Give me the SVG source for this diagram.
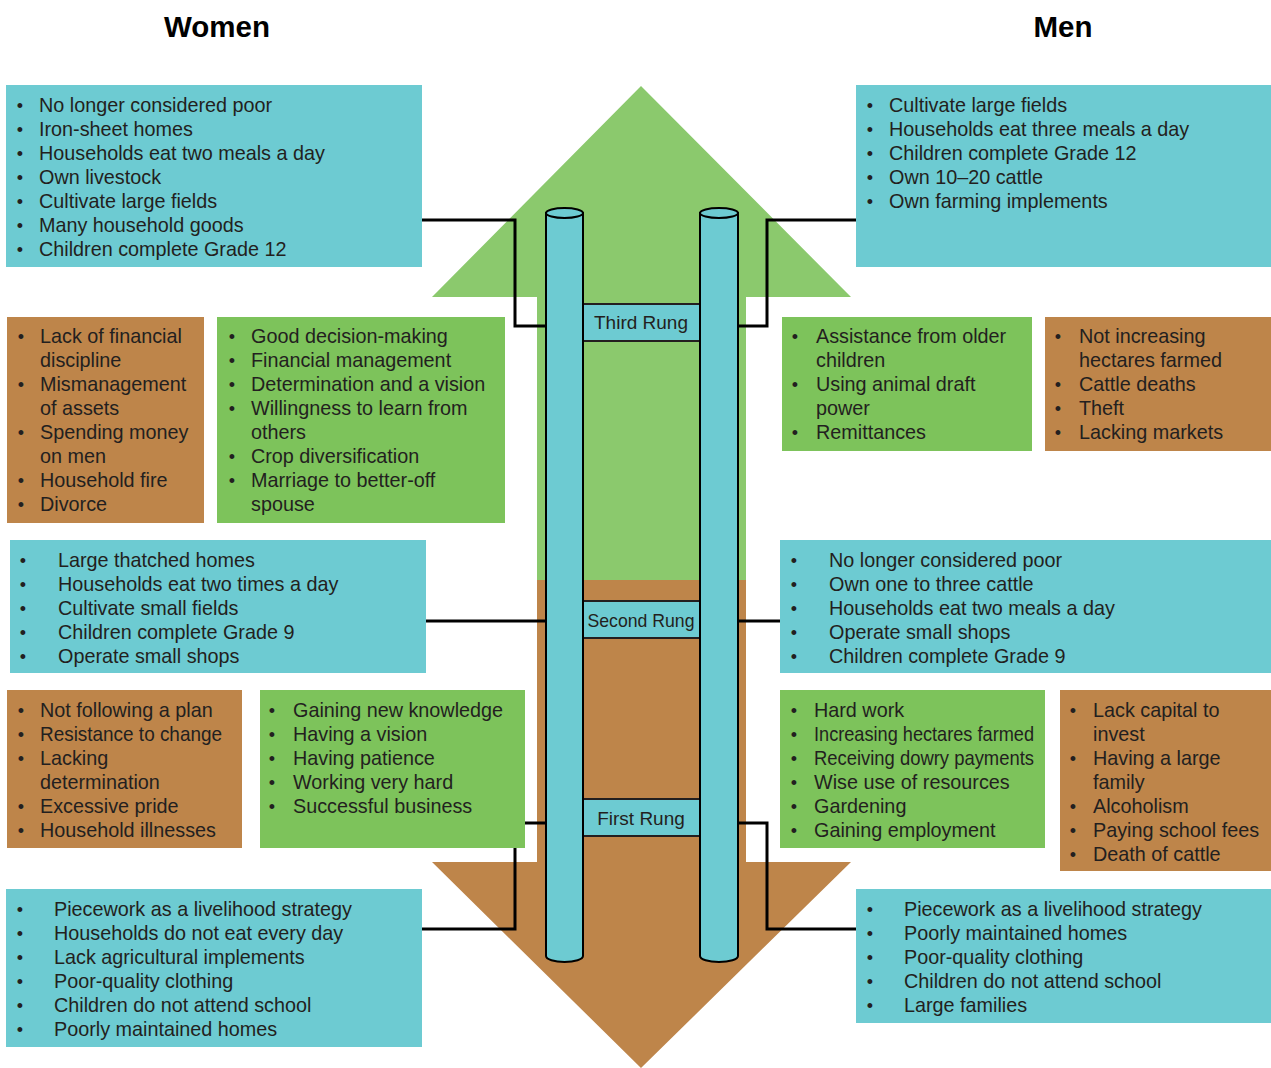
<svg xmlns="http://www.w3.org/2000/svg" width="1271" height="1068" viewBox="0 0 1271 1068">
<style>
.t{font-family:"Liberation Sans",Arial,sans-serif;font-size:19.8px;fill:#231F20}
.b{font-family:"Liberation Sans",Arial,sans-serif;font-size:18px;fill:#231F20;text-anchor:middle}
.h{font-family:"Liberation Sans",Arial,sans-serif;font-size:29.5px;font-weight:bold;fill:#000;text-anchor:middle}
.r{font-family:"Liberation Sans",Arial,sans-serif;font-size:19px;fill:#231F20;text-anchor:middle}
.blue{fill:#6DCBD2}
.grn{fill:#7DC35B}
.brn{fill:#BE854A}
.pole{fill:#6DCBD2;stroke:#000;stroke-width:2}
.rung{fill:#6DCBD2;stroke:#231F20;stroke-width:2}
.con{fill:none;stroke:#000;stroke-width:3}
</style>
<rect width="1271" height="1068" fill="#fff"/>
<g id="arrow-up"><polygon points="641,86 851,297 746,297 746,580 537,580 537,297 432,297" fill="#8BC96D"/></g>
<g id="arrow-down"><polygon points="537,580 746,580 746,862 851,862 641,1068 432,862 537,862" fill="#BE854A"/></g>
<g id="titles">
<text class="h" x="217" y="37">Women</text>
<text class="h" x="1063" y="37">Men</text>
</g>
<g id="connectors">
<polyline class="con" points="422,220 515,220 515,326 546,326"/>
<polyline class="con" points="738,326 767,326 767,220 856,220"/>
<line class="con" x1="426" y1="621" x2="546" y2="621"/>
<line class="con" x1="738" y1="621" x2="780" y2="621"/>
<polyline class="con" points="546,823 515,823 515,929 422,929"/>
<polyline class="con" points="738,823 767,823 767,929 856,929"/>
</g>
<g id="ladder">
<g id="rung3"><rect class="rung" x="583" y="304" width="117" height="37"/><text class="r" x="641" y="329">Third Rung</text></g>
<g id="rung2"><rect class="rung" x="583" y="601" width="117" height="37"/><text class="r" x="641" y="627" textLength="107" lengthAdjust="spacingAndGlyphs">Second Rung</text></g>
<g id="rung1"><rect class="rung" x="583" y="799" width="117" height="37"/><text class="r" x="641" y="825">First Rung</text></g>
<g id="pole-left"><path class="pole" d="M546,213 L546,956 A18.5,6 0 0 0 583,956 L583,213 Z"/><ellipse class="pole" cx="564.5" cy="213" rx="18.5" ry="5"/></g>
<g id="pole-right"><path class="pole" d="M700,213 L700,956 A19,6 0 0 0 738,956 L738,213 Z"/><ellipse class="pole" cx="719" cy="213" rx="19" ry="5"/></g>
</g>
<g id="women-third">
<rect class="blue" x="6" y="85" width="416" height="182"/>
<text class="b" x="20" y="112">•</text><text class="t" x="39" y="112">No longer considered poor</text>
<text class="b" x="20" y="136">•</text><text class="t" x="39" y="136">Iron-sheet homes</text>
<text class="b" x="20" y="160">•</text><text class="t" x="39" y="160">Households eat two meals a day</text>
<text class="b" x="20" y="184">•</text><text class="t" x="39" y="184">Own livestock</text>
<text class="b" x="20" y="208">•</text><text class="t" x="39" y="208">Cultivate large fields</text>
<text class="b" x="20" y="232">•</text><text class="t" x="39" y="232">Many household goods</text>
<text class="b" x="20" y="256">•</text><text class="t" x="39" y="256">Children complete Grade 12</text>
</g>
<g id="men-third">
<rect class="blue" x="856" y="85" width="415" height="182"/>
<text class="b" x="870" y="112">•</text><text class="t" x="889" y="112">Cultivate large fields</text>
<text class="b" x="870" y="136">•</text><text class="t" x="889" y="136">Households eat three meals a day</text>
<text class="b" x="870" y="160">•</text><text class="t" x="889" y="160">Children complete Grade 12</text>
<text class="b" x="870" y="184">•</text><text class="t" x="889" y="184">Own 10–20 cattle</text>
<text class="b" x="870" y="208">•</text><text class="t" x="889" y="208">Own farming implements</text>
</g>
<g id="women-down-2">
<rect class="brn" x="7" y="317" width="197" height="206"/>
<text class="b" x="21" y="343">•</text><text class="t" x="40" y="343">Lack of financial</text>
<text class="t" x="40" y="367">discipline</text>
<text class="b" x="21" y="391">•</text><text class="t" x="40" y="391">Mismanagement</text>
<text class="t" x="40" y="415">of assets</text>
<text class="b" x="21" y="439">•</text><text class="t" x="40" y="439">Spending money</text>
<text class="t" x="40" y="463">on men</text>
<text class="b" x="21" y="487">•</text><text class="t" x="40" y="487">Household fire</text>
<text class="b" x="21" y="511">•</text><text class="t" x="40" y="511">Divorce</text>
</g>
<g id="women-up-2">
<rect class="grn" x="217" y="317" width="288" height="206"/>
<text class="b" x="232" y="343">•</text><text class="t" x="251" y="343">Good decision-making</text>
<text class="b" x="232" y="367">•</text><text class="t" x="251" y="367">Financial management</text>
<text class="b" x="232" y="391">•</text><text class="t" x="251" y="391">Determination and a vision</text>
<text class="b" x="232" y="415">•</text><text class="t" x="251" y="415">Willingness to learn from</text>
<text class="t" x="251" y="439">others</text>
<text class="b" x="232" y="463">•</text><text class="t" x="251" y="463">Crop diversification</text>
<text class="b" x="232" y="487">•</text><text class="t" x="251" y="487">Marriage to better-off</text>
<text class="t" x="251" y="511">spouse</text>
</g>
<g id="men-up-2">
<rect class="grn" x="782" y="317" width="250" height="134"/>
<text class="b" x="795" y="343">•</text><text class="t" x="816" y="343">Assistance from older</text>
<text class="t" x="816" y="367">children</text>
<text class="b" x="795" y="391">•</text><text class="t" x="816" y="391">Using animal draft</text>
<text class="t" x="816" y="415">power</text>
<text class="b" x="795" y="439">•</text><text class="t" x="816" y="439">Remittances</text>
</g>
<g id="men-down-2">
<rect class="brn" x="1045" y="317" width="226" height="134"/>
<text class="b" x="1058" y="343">•</text><text class="t" x="1079" y="343">Not increasing</text>
<text class="t" x="1079" y="367">hectares farmed</text>
<text class="b" x="1058" y="391">•</text><text class="t" x="1079" y="391">Cattle deaths</text>
<text class="b" x="1058" y="415">•</text><text class="t" x="1079" y="415">Theft</text>
<text class="b" x="1058" y="439">•</text><text class="t" x="1079" y="439">Lacking markets</text>
</g>
<g id="women-second">
<rect class="blue" x="10" y="540" width="416" height="133"/>
<text class="b" x="23" y="567">•</text><text class="t" x="58" y="567">Large thatched homes</text>
<text class="b" x="23" y="591">•</text><text class="t" x="58" y="591">Households eat two times a day</text>
<text class="b" x="23" y="615">•</text><text class="t" x="58" y="615">Cultivate small fields</text>
<text class="b" x="23" y="639">•</text><text class="t" x="58" y="639">Children complete Grade 9</text>
<text class="b" x="23" y="663">•</text><text class="t" x="58" y="663">Operate small shops</text>
</g>
<g id="men-second">
<rect class="blue" x="780" y="540" width="491" height="133"/>
<text class="b" x="794" y="567">•</text><text class="t" x="829" y="567">No longer considered poor</text>
<text class="b" x="794" y="591">•</text><text class="t" x="829" y="591">Own one to three cattle</text>
<text class="b" x="794" y="615">•</text><text class="t" x="829" y="615">Households eat two meals a day</text>
<text class="b" x="794" y="639">•</text><text class="t" x="829" y="639">Operate small shops</text>
<text class="b" x="794" y="663">•</text><text class="t" x="829" y="663">Children complete Grade 9</text>
</g>
<g id="women-down-1">
<rect class="brn" x="7" y="690" width="235" height="158"/>
<text class="b" x="21" y="717">•</text><text class="t" x="40" y="717">Not following a plan</text>
<text class="b" x="21" y="741">•</text><text class="t" x="40" y="741" textLength="182" lengthAdjust="spacingAndGlyphs">Resistance to change</text>
<text class="b" x="21" y="765">•</text><text class="t" x="40" y="765">Lacking</text>
<text class="t" x="40" y="789">determination</text>
<text class="b" x="21" y="813">•</text><text class="t" x="40" y="813">Excessive pride</text>
<text class="b" x="21" y="837">•</text><text class="t" x="40" y="837">Household illnesses</text>
</g>
<g id="women-up-1">
<rect class="grn" x="260" y="690" width="265" height="158"/>
<text class="b" x="272" y="717">•</text><text class="t" x="293" y="717">Gaining new knowledge</text>
<text class="b" x="272" y="741">•</text><text class="t" x="293" y="741">Having a vision</text>
<text class="b" x="272" y="765">•</text><text class="t" x="293" y="765">Having patience</text>
<text class="b" x="272" y="789">•</text><text class="t" x="293" y="789">Working very hard</text>
<text class="b" x="272" y="813">•</text><text class="t" x="293" y="813">Successful business</text>
</g>
<g id="men-up-1">
<rect class="grn" x="780" y="690" width="265" height="158"/>
<text class="b" x="794" y="717">•</text><text class="t" x="814" y="717">Hard work</text>
<text class="b" x="794" y="741">•</text><text class="t" x="814" y="741" textLength="220" lengthAdjust="spacingAndGlyphs">Increasing hectares farmed</text>
<text class="b" x="794" y="765">•</text><text class="t" x="814" y="765" textLength="220" lengthAdjust="spacingAndGlyphs">Receiving dowry payments</text>
<text class="b" x="794" y="789">•</text><text class="t" x="814" y="789">Wise use of resources</text>
<text class="b" x="794" y="813">•</text><text class="t" x="814" y="813">Gardening</text>
<text class="b" x="794" y="837">•</text><text class="t" x="814" y="837">Gaining employment</text>
</g>
<g id="men-down-1">
<rect class="brn" x="1060" y="690" width="211" height="181"/>
<text class="b" x="1073" y="717">•</text><text class="t" x="1093" y="717">Lack capital to</text>
<text class="t" x="1093" y="741">invest</text>
<text class="b" x="1073" y="765">•</text><text class="t" x="1093" y="765">Having a large</text>
<text class="t" x="1093" y="789">family</text>
<text class="b" x="1073" y="813">•</text><text class="t" x="1093" y="813">Alcoholism</text>
<text class="b" x="1073" y="837">•</text><text class="t" x="1093" y="837">Paying school fees</text>
<text class="b" x="1073" y="861">•</text><text class="t" x="1093" y="861">Death of cattle</text>
</g>
<g id="women-first">
<rect class="blue" x="6" y="889" width="416" height="158"/>
<text class="b" x="20" y="916">•</text><text class="t" x="54" y="916">Piecework as a livelihood strategy</text>
<text class="b" x="20" y="940">•</text><text class="t" x="54" y="940">Households do not eat every day</text>
<text class="b" x="20" y="964">•</text><text class="t" x="54" y="964">Lack agricultural implements</text>
<text class="b" x="20" y="988">•</text><text class="t" x="54" y="988">Poor-quality clothing</text>
<text class="b" x="20" y="1012">•</text><text class="t" x="54" y="1012">Children do not attend school</text>
<text class="b" x="20" y="1036">•</text><text class="t" x="54" y="1036">Poorly maintained homes</text>
</g>
<g id="men-first">
<rect class="blue" x="856" y="889" width="415" height="134"/>
<text class="b" x="870" y="916">•</text><text class="t" x="904" y="916">Piecework as a livelihood strategy</text>
<text class="b" x="870" y="940">•</text><text class="t" x="904" y="940">Poorly maintained homes</text>
<text class="b" x="870" y="964">•</text><text class="t" x="904" y="964">Poor-quality clothing</text>
<text class="b" x="870" y="988">•</text><text class="t" x="904" y="988">Children do not attend school</text>
<text class="b" x="870" y="1012">•</text><text class="t" x="904" y="1012">Large families</text>
</g>
</svg>
